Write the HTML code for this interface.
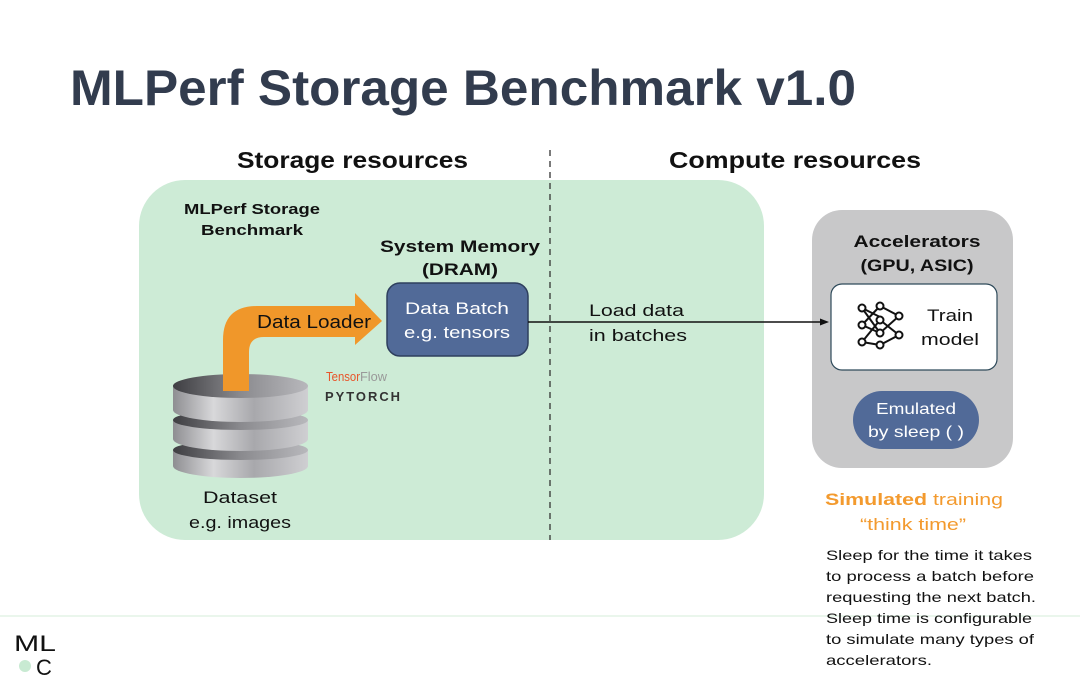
<!DOCTYPE html>
<html><head><meta charset="utf-8"><style>
html,body{margin:0;padding:0;background:#fff;}
svg{display:block;font-family:"Liberation Sans",sans-serif;}
</style></head><body>
<svg width="1080" height="689" viewBox="0 0 1080 689" xmlns="http://www.w3.org/2000/svg">
<defs>
<linearGradient id="cyl" x1="0" x2="1" y1="0" y2="0">
<stop offset="0" stop-color="#8e8e92"/><stop offset="0.3" stop-color="#d8d8da"/><stop offset="0.6" stop-color="#a8a8ac"/><stop offset="1" stop-color="#cfcfd2"/>
</linearGradient>
<linearGradient id="cyltop" x1="0" x2="1" y1="0" y2="0">
<stop offset="0" stop-color="#3e3e42"/><stop offset="0.5" stop-color="#8a8a8e"/><stop offset="1" stop-color="#b8b8bc"/>
</linearGradient>
</defs>
<text x="70" y="105" font-size="50" font-weight="bold" fill="#323c4e" textLength="786" lengthAdjust="spacingAndGlyphs">MLPerf Storage Benchmark v1.0</text>
<text x="237" y="168" font-size="23" font-weight="bold" fill="#111" textLength="231" lengthAdjust="spacingAndGlyphs">Storage resources</text>
<text x="669" y="168" font-size="23" font-weight="bold" fill="#111" textLength="252" lengthAdjust="spacingAndGlyphs">Compute resources</text>
<rect x="139" y="180" width="625" height="360" rx="46" fill="#cdebd6"/>
<line x1="550" y1="150" x2="550" y2="540" stroke="#333" stroke-width="1.3" stroke-dasharray="6,5"/>
<text x="184" y="214" font-size="15" font-weight="bold" fill="#111" textLength="136" lengthAdjust="spacingAndGlyphs">MLPerf Storage</text>
<text x="201" y="235" font-size="15" font-weight="bold" fill="#111" textLength="102" lengthAdjust="spacingAndGlyphs">Benchmark</text>
<text x="380" y="252" font-size="17" font-weight="bold" fill="#111" textLength="160" lengthAdjust="spacingAndGlyphs">System Memory</text>
<text x="422" y="275" font-size="17" font-weight="bold" fill="#111" textLength="76" lengthAdjust="spacingAndGlyphs">(DRAM)</text>
<rect x="387" y="283" width="141" height="73" rx="13" fill="#516a98" stroke="#2e3f5e" stroke-width="1.5"/>
<text x="457" y="314" font-size="17" fill="#fff" text-anchor="middle" textLength="104" lengthAdjust="spacingAndGlyphs">Data Batch</text>
<text x="457" y="338" font-size="17" fill="#fff" text-anchor="middle" textLength="106" lengthAdjust="spacingAndGlyphs">e.g. tensors</text>
<!-- cylinder -->
<g>
<path d="M173 450 v16 a67.5 12 0 0 0 135 0 v-16z" fill="url(#cyl)"/>
<ellipse cx="240.5" cy="450" rx="67.5" ry="10" fill="url(#cyltop)"/>
<path d="M173 420 v19 a67.5 12 0 0 0 135 0 v-19z" fill="url(#cyl)"/>
<ellipse cx="240.5" cy="420" rx="67.5" ry="10" fill="url(#cyltop)"/>
<path d="M173 386 v24 a67.5 12 0 0 0 135 0 v-24z" fill="url(#cyl)"/>
<ellipse cx="240.5" cy="386" rx="67.5" ry="12" fill="url(#cyltop)"/>
</g>
<!-- orange arrow -->
<path d="M223 391 V340 Q223 306 257 306 H355 V293 L382 321 L355 345 V337 H264 Q249 337 249 352 V391 Z" fill="#f0972a"/>
<text x="257" y="328" font-size="18" fill="#111" textLength="114" lengthAdjust="spacingAndGlyphs">Data Loader</text>
<text x="326" y="381" font-size="13" fill="#e8542a" textLength="34" lengthAdjust="spacingAndGlyphs">Tensor</text><text x="360" y="381" font-size="13" fill="#999" textLength="27" lengthAdjust="spacingAndGlyphs">Flow</text>
<text x="325" y="401" font-size="13" font-weight="bold" fill="#333" textLength="77" lengthAdjust="spacingAndGlyphs" letter-spacing="2">PYTORCH</text>
<text x="240" y="503" font-size="17" fill="#111" text-anchor="middle" textLength="74" lengthAdjust="spacingAndGlyphs">Dataset</text>
<text x="240" y="528" font-size="17" fill="#111" text-anchor="middle" textLength="102" lengthAdjust="spacingAndGlyphs">e.g. images</text>
<text x="589" y="316" font-size="17" fill="#111" textLength="95" lengthAdjust="spacingAndGlyphs">Load data</text>
<text x="589" y="341" font-size="17" fill="#111" textLength="98" lengthAdjust="spacingAndGlyphs">in batches</text>
<!-- accelerators -->
<rect x="812" y="210" width="201" height="258" rx="30" fill="#c8c8c9"/>
<line x1="528" y1="322" x2="822" y2="322" stroke="#111" stroke-width="1.5"/>
<path d="M829 322 L820 318.5 L820 325.5 Z" fill="#111"/>
<text x="917" y="247" font-size="17" font-weight="bold" fill="#111" text-anchor="middle" textLength="127" lengthAdjust="spacingAndGlyphs">Accelerators</text>
<text x="917" y="271" font-size="17" font-weight="bold" fill="#111" text-anchor="middle" textLength="113" lengthAdjust="spacingAndGlyphs">(GPU, ASIC)</text>
<rect x="831" y="284" width="166" height="86" rx="11" fill="#fff" stroke="#2e4a5a" stroke-width="1.2"/>
<g stroke="#111" stroke-width="2" fill="#fff">
<line x1="862" y1="308" x2="880" y2="317"/><line x1="862" y1="308" x2="880" y2="333"/><line x1="862" y1="325" x2="880" y2="306"/><line x1="862" y1="325" x2="880" y2="333"/><line x1="862" y1="342" x2="880" y2="320"/><line x1="862" y1="342" x2="880" y2="345"/><line x1="880" y1="306" x2="899" y2="316"/><line x1="880" y1="320" x2="899" y2="335"/><line x1="880" y1="333" x2="899" y2="316"/><line x1="880" y1="345" x2="899" y2="335"/>
<circle cx="862" cy="308" r="3.5"/><circle cx="862" cy="325" r="3.5"/><circle cx="862" cy="342" r="3.5"/>
<circle cx="880" cy="306" r="3.5"/><circle cx="880" cy="320" r="3.5"/><circle cx="880" cy="333" r="3.5"/><circle cx="880" cy="345" r="3.5"/>
<circle cx="899" cy="316" r="3.5"/><circle cx="899" cy="335" r="3.5"/>
</g>
<text x="950" y="321" font-size="17" fill="#111" text-anchor="middle" textLength="46" lengthAdjust="spacingAndGlyphs">Train</text>
<text x="950" y="345" font-size="17" fill="#111" text-anchor="middle" textLength="58" lengthAdjust="spacingAndGlyphs">model</text>
<rect x="853" y="391" width="126" height="58" rx="29" fill="#516a98"/>
<text x="916" y="414" font-size="16" fill="#fff" text-anchor="middle" textLength="80" lengthAdjust="spacingAndGlyphs">Emulated</text>
<text x="916" y="437" font-size="16" fill="#fff" text-anchor="middle" textLength="96" lengthAdjust="spacingAndGlyphs">by sleep ( )</text>
<text x="825" y="505" font-size="17" fill="#f39a2e" textLength="178" lengthAdjust="spacingAndGlyphs"><tspan font-weight="bold">Simulated</tspan> training</text>
<text x="913" y="530" font-size="17" fill="#f39a2e" text-anchor="middle" textLength="106" lengthAdjust="spacingAndGlyphs">“think time”</text>
<line x1="0" y1="616" x2="1080" y2="616" stroke="#e3f3e6" stroke-width="1.5"/>
<g font-size="14" fill="#111">
<text x="826" y="560" textLength="206" lengthAdjust="spacingAndGlyphs">Sleep for the time it takes</text>
<text x="826" y="581" textLength="208" lengthAdjust="spacingAndGlyphs">to process a batch before</text>
<text x="826" y="602" textLength="210" lengthAdjust="spacingAndGlyphs">requesting the next batch.</text>
<text x="826" y="623" textLength="206" lengthAdjust="spacingAndGlyphs">Sleep time is configurable</text>
<text x="826" y="644" textLength="208" lengthAdjust="spacingAndGlyphs">to simulate many types of</text>
<text x="826" y="665" textLength="106" lengthAdjust="spacingAndGlyphs">accelerators.</text>
</g>
<text x="14" y="651" font-size="22" fill="#111" textLength="42" lengthAdjust="spacingAndGlyphs">ML</text>
<circle cx="25" cy="666" r="6" fill="#c8ead2"/>
<text x="36" y="675" font-size="22" fill="#111">C</text>
</svg>
</body></html>
